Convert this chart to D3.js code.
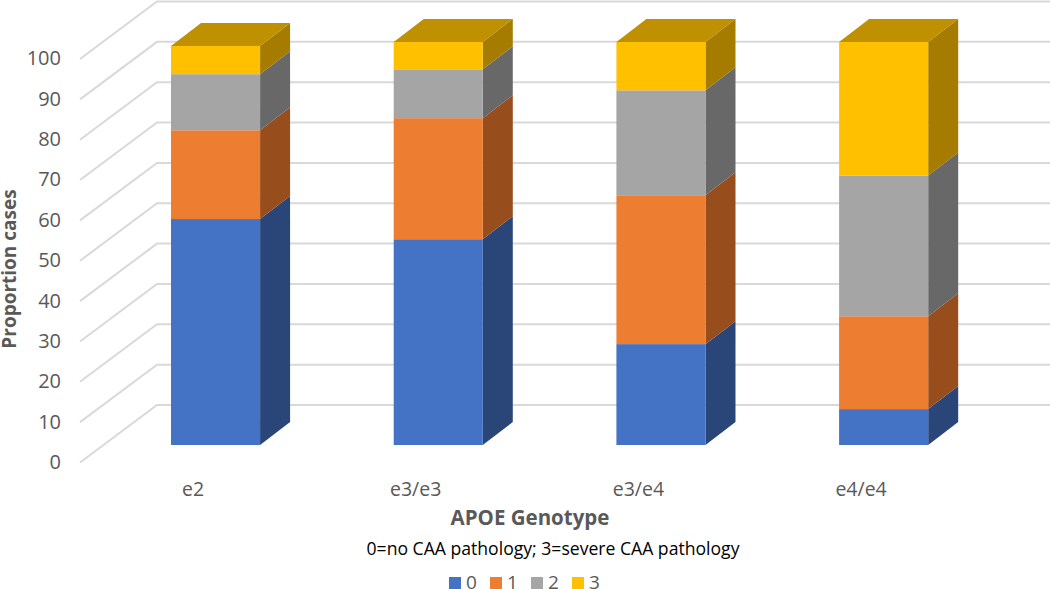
<!DOCTYPE html>
<html><head><meta charset="utf-8">
<script src="https://cdnjs.cloudflare.com/ajax/libs/d3/7.8.5/d3.min.js"></script>
<style>html,body{margin:0;padding:0;background:#fff}svg{display:block}text{font-family:"Open Sans",sans-serif}</style>
</head><body><svg id="c" width="1050" height="589"></svg>
<script>
const categories = ["e2","e3/e3","e3/e4","e4/e4"];
const seriesNames = ["0","1","2","3"];
const s0 = [56, 51, 25, 8.9];
const s1 = [22, 30, 36.9, 23];
const s2 = [13.9, 12.1, 26, 34.9];
const s3 = [7, 6.8, 12, 33.1];
const seriesValues = [s0, s1, s2, s3];
const yTicks = [0,10,20,30,40,50,60,70,80,90,100];
const colors = ["#4472C4","#ED7D31","#A5A5A5","#FFC000"];
const sideColors = ["#2A4679","#974D1C","#686868","#A57C00"];
const topColor = "#BF9000";
const depth = {dx:30, dy:-23};
const wall = {dx:77, dy:-57.5};

const svg = d3.select("#c");
const y = d3.scaleLinear().domain([0,100]).range([445,41.5]);
const x = d3.scaleBand().domain(categories).range([104.2,995]).paddingInner(0.6).paddingOuter(0.3);
const bw = x.bandwidth();

const gridX0 = 157, gridX1 = 1050, backOffset = 40;
const grid = svg.append("g").attr("stroke","#D9D9D9").attr("stroke-width",2).attr("fill","none");
yTicks.forEach(t=>{
  const yb = y(t) - backOffset;
  grid.append("path").attr("d",d3.line()([[gridX0-wall.dx,yb-wall.dy],[gridX0,yb],[gridX1,yb]]));
});

const poly = pts => d3.line()(pts)+"Z";
categories.forEach((c,i)=>{
  let acc = 0;
  const L = x(c), R = L+bw;
  const g = svg.append("g");
  seriesValues.forEach((vals,k)=>{
    const y0 = y(acc), y1 = y(acc+vals[i]);
    acc += vals[i];
    g.append("path").attr("d",poly([[R,y0],[R+depth.dx,y0+depth.dy],[R+depth.dx,y1+depth.dy],[R,y1]])).attr("fill",sideColors[k]);
    g.append("rect").attr("x",L).attr("y",y1).attr("width",bw).attr("height",y0-y1).attr("fill",colors[k]);
  });
  const yt = y(acc);
  g.append("path").attr("d",poly([[L,yt],[L+depth.dx,yt+depth.dy],[R+depth.dx,yt+depth.dy],[R,yt]])).attr("fill",topColor);
  svg.append("text").attr("x",L+22).attr("y",496).attr("text-anchor","middle").attr("font-size",19.5).attr("fill","#595959").text(c);
});

const yLab = d3.scaleLinear().domain([0,100]).range([462,58]);
yTicks.forEach(t=>{
  svg.append("text").attr("x",61).attr("y",yLab(t)).attr("dy","0.36em").attr("text-anchor","end").attr("font-size",20).attr("fill","#595959").text(t);
});

svg.append("text").attr("transform","translate(16,269) rotate(-90)").attr("text-anchor","middle").attr("font-size",19).attr("font-weight",700).attr("fill","#595959").text("Proportion cases");
svg.append("text").attr("x",530).attr("y",525).attr("text-anchor","middle").attr("font-size",20.5).attr("font-weight",700).attr("fill","#595959").text("APOE Genotype");
svg.append("text").attr("x",553).attr("y",555).attr("text-anchor","middle").attr("font-size",17.6).attr("fill","#000").text("0=no CAA pathology; 3=severe CAA pathology");

const legX = [449,490,531,572];
seriesNames.forEach((n,i)=>{
  svg.append("rect").attr("x",legX[i]).attr("y",577).attr("width",12).attr("height",12).attr("fill",colors[i]);
  svg.append("text").attr("x",legX[i]+17).attr("y",588.5).attr("font-size",19).attr("fill","#595959").text(n);
});
</script></body></html>
